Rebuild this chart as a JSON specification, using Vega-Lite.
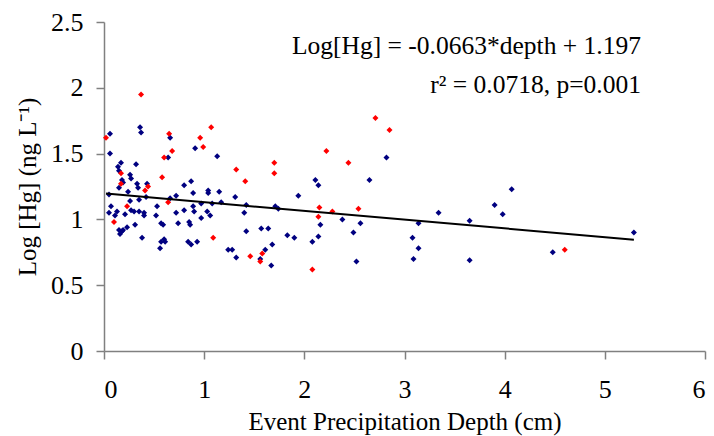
{
  "$schema": "https://vega.github.io/schema/vega-lite/v6.json",
  "autosize": "none",
  "width": 601,
  "height": 329,
  "padding": {"left": 104, "top": 22, "right": 9, "bottom": 85},
  "background": "white",
  "config": {
    "view": {"stroke": null},
    "font": "Liberation Serif",
    "axis": {"grid": false, "domainColor": "#808080", "tickColor": "#808080", "domainWidth": 1.5, "tickWidth": 1.5, "tickSize": 8, "labelFont": "Liberation Serif", "titleFont": "Liberation Serif", "labelFontSize": 26, "titleFontSize": 25, "labelColor": "black", "titleColor": "black", "titleFontWeight": "normal", "labelExpr": "datum.value"}
  },
  "datasets": {
    "points": [
      {"depth":0.06,"loghg":1.65,"group":"blue"},{"depth":0.36,"loghg":1.70,"group":"blue"},{"depth":0.37,"loghg":1.66,"group":"blue"},{"depth":0.66,"loghg":1.62,"group":"blue"},{"depth":0.06,"loghg":1.50,"group":"blue"},{"depth":0.91,"loghg":1.54,"group":"blue"},{"depth":0.64,"loghg":1.47,"group":"blue"},{"depth":1.13,"loghg":1.48,"group":"blue"},{"depth":0.32,"loghg":1.42,"group":"blue"},{"depth":0.17,"loghg":1.43,"group":"blue"},{"depth":0.14,"loghg":1.40,"group":"blue"},{"depth":0.15,"loghg":1.37,"group":"blue"},{"depth":0.26,"loghg":1.34,"group":"blue"},{"depth":0.27,"loghg":1.31,"group":"blue"},{"depth":0.18,"loghg":1.30,"group":"blue"},{"depth":0.19,"loghg":1.28,"group":"blue"},{"depth":0.15,"loghg":1.24,"group":"blue"},{"depth":0.33,"loghg":1.27,"group":"blue"},{"depth":0.34,"loghg":1.24,"group":"blue"},{"depth":0.43,"loghg":1.27,"group":"blue"},{"depth":0.24,"loghg":1.21,"group":"blue"},{"depth":0.87,"loghg":1.29,"group":"blue"},{"depth":0.80,"loghg":1.26,"group":"blue"},{"depth":0.89,"loghg":1.20,"group":"blue"},{"depth":1.04,"loghg":1.22,"group":"blue"},{"depth":1.04,"loghg":1.20,"group":"blue"},{"depth":1.15,"loghg":1.21,"group":"blue"},{"depth":0.05,"loghg":1.19,"group":"blue"},{"depth":0.35,"loghg":1.15,"group":"blue"},{"depth":0.42,"loghg":1.17,"group":"blue"},{"depth":0.26,"loghg":1.14,"group":"blue"},{"depth":0.72,"loghg":1.18,"group":"blue"},{"depth":0.66,"loghg":1.16,"group":"blue"},{"depth":0.07,"loghg":1.10,"group":"blue"},{"depth":0.53,"loghg":1.10,"group":"blue"},{"depth":0.89,"loghg":1.10,"group":"blue"},{"depth":0.97,"loghg":1.12,"group":"blue"},{"depth":1.08,"loghg":1.12,"group":"blue"},{"depth":0.80,"loghg":1.07,"group":"blue"},{"depth":0.27,"loghg":1.07,"group":"blue"},{"depth":0.30,"loghg":1.06,"group":"blue"},{"depth":0.35,"loghg":1.06,"group":"blue"},{"depth":0.40,"loghg":1.05,"group":"blue"},{"depth":0.40,"loghg":1.03,"group":"blue"},{"depth":0.13,"loghg":1.06,"group":"blue"},{"depth":0.05,"loghg":1.05,"group":"blue"},{"depth":0.11,"loghg":1.03,"group":"blue"},{"depth":0.21,"loghg":1.04,"group":"blue"},{"depth":0.52,"loghg":1.03,"group":"blue"},{"depth":0.72,"loghg":1.05,"group":"blue"},{"depth":0.90,"loghg":1.06,"group":"blue"},{"depth":1.03,"loghg":1.06,"group":"blue"},{"depth":1.06,"loghg":1.03,"group":"blue"},{"depth":0.97,"loghg":1.01,"group":"blue"},{"depth":1.17,"loghg":1.13,"group":"blue"},{"depth":0.74,"loghg":0.97,"group":"blue"},{"depth":0.85,"loghg":0.98,"group":"blue"},{"depth":0.86,"loghg":0.96,"group":"blue"},{"depth":0.31,"loghg":0.96,"group":"blue"},{"depth":0.23,"loghg":0.94,"group":"blue"},{"depth":0.15,"loghg":0.92,"group":"blue"},{"depth":0.18,"loghg":0.91,"group":"blue"},{"depth":0.16,"loghg":0.89,"group":"blue"},{"depth":0.19,"loghg":0.92,"group":"blue"},{"depth":0.57,"loghg":0.97,"group":"blue"},{"depth":0.59,"loghg":0.96,"group":"blue"},{"depth":0.38,"loghg":0.86,"group":"blue"},{"depth":0.60,"loghg":0.85,"group":"blue"},{"depth":0.57,"loghg":0.83,"group":"blue"},{"depth":0.61,"loghg":0.83,"group":"blue"},{"depth":0.84,"loghg":0.83,"group":"blue"},{"depth":0.87,"loghg":0.81,"group":"blue"},{"depth":0.93,"loghg":0.83,"group":"blue"},{"depth":0.56,"loghg":0.78,"group":"blue"},{"depth":2.11,"loghg":1.30,"group":"blue"},{"depth":2.14,"loghg":1.26,"group":"blue"},{"depth":1.31,"loghg":1.17,"group":"blue"},{"depth":1.94,"loghg":1.18,"group":"blue"},{"depth":1.42,"loghg":1.11,"group":"blue"},{"depth":1.71,"loghg":1.10,"group":"blue"},{"depth":1.74,"loghg":1.08,"group":"blue"},{"depth":1.40,"loghg":1.05,"group":"blue"},{"depth":2.16,"loghg":0.96,"group":"blue"},{"depth":2.38,"loghg":1.00,"group":"blue"},{"depth":1.42,"loghg":0.91,"group":"blue"},{"depth":1.57,"loghg":0.93,"group":"blue"},{"depth":1.64,"loghg":0.93,"group":"blue"},{"depth":1.83,"loghg":0.88,"group":"blue"},{"depth":1.90,"loghg":0.86,"group":"blue"},{"depth":2.14,"loghg":0.87,"group":"blue"},{"depth":2.08,"loghg":0.83,"group":"blue"},{"depth":1.68,"loghg":0.81,"group":"blue"},{"depth":1.61,"loghg":0.77,"group":"blue"},{"depth":1.24,"loghg":0.77,"group":"blue"},{"depth":1.28,"loghg":0.77,"group":"blue"},{"depth":1.32,"loghg":0.71,"group":"blue"},{"depth":1.56,"loghg":0.70,"group":"blue"},{"depth":1.67,"loghg":0.65,"group":"blue"},{"depth":2.82,"loghg":1.47,"group":"blue"},{"depth":2.65,"loghg":1.30,"group":"blue"},{"depth":2.56,"loghg":0.97,"group":"blue"},{"depth":2.49,"loghg":0.90,"group":"blue"},{"depth":2.52,"loghg":0.68,"group":"blue"},{"depth":3.14,"loghg":0.97,"group":"blue"},{"depth":3.34,"loghg":1.05,"group":"blue"},{"depth":3.08,"loghg":0.86,"group":"blue"},{"depth":3.14,"loghg":0.78,"group":"blue"},{"depth":3.09,"loghg":0.70,"group":"blue"},{"depth":3.65,"loghg":0.99,"group":"blue"},{"depth":3.65,"loghg":0.69,"group":"blue"},{"depth":3.90,"loghg":1.11,"group":"blue"},{"depth":3.98,"loghg":1.04,"group":"blue"},{"depth":4.07,"loghg":1.23,"group":"blue"},{"depth":4.48,"loghg":0.75,"group":"blue"},{"depth":5.29,"loghg":0.90,"group":"blue"},
      {"depth":0.37,"loghg":1.95,"group":"red"},{"depth":0.02,"loghg":1.62,"group":"red"},{"depth":0.65,"loghg":1.65,"group":"red"},{"depth":1.07,"loghg":1.70,"group":"red"},{"depth":0.96,"loghg":1.62,"group":"red"},{"depth":0.99,"loghg":1.55,"group":"red"},{"depth":0.68,"loghg":1.52,"group":"red"},{"depth":0.60,"loghg":1.47,"group":"red"},{"depth":0.17,"loghg":1.35,"group":"red"},{"depth":0.58,"loghg":1.32,"group":"red"},{"depth":0.17,"loghg":1.27,"group":"red"},{"depth":0.44,"loghg":1.25,"group":"red"},{"depth":0.41,"loghg":1.22,"group":"red"},{"depth":0.64,"loghg":1.13,"group":"red"},{"depth":0.23,"loghg":1.10,"group":"red"},{"depth":0.10,"loghg":0.98,"group":"red"},{"depth":1.09,"loghg":0.86,"group":"red"},{"depth":2.22,"loghg":1.52,"group":"red"},{"depth":1.70,"loghg":1.43,"group":"red"},{"depth":1.70,"loghg":1.35,"group":"red"},{"depth":1.32,"loghg":1.38,"group":"red"},{"depth":1.41,"loghg":1.29,"group":"red"},{"depth":2.15,"loghg":1.09,"group":"red"},{"depth":2.28,"loghg":1.06,"group":"red"},{"depth":2.14,"loghg":1.02,"group":"red"},{"depth":1.46,"loghg":0.72,"group":"red"},{"depth":1.58,"loghg":0.74,"group":"red"},{"depth":1.56,"loghg":0.68,"group":"red"},{"depth":2.08,"loghg":0.62,"group":"red"},{"depth":2.71,"loghg":1.77,"group":"red"},{"depth":2.85,"loghg":1.68,"group":"red"},{"depth":2.44,"loghg":1.43,"group":"red"},{"depth":2.54,"loghg":1.08,"group":"red"},{"depth":4.60,"loghg":0.77,"group":"red"}
    ],
    "trend": [
      {"depth": 0.02, "loghg": 1.196},
      {"depth": 5.29, "loghg": 0.846}
    ]
  },
  "layer": [
    {
      "data": {"name": "points"},
      "mark": {"type": "point", "shape": "diamond", "filled": true, "size": 36, "opacity": 1},
      "encoding": {
        "x": {"field": "depth", "type": "quantitative", "scale": {"domain": [0, 6], "nice": false, "zero": true}, "axis": {"title": "Event Precipitation Depth (cm)", "values": [0,1,2,3,4,5,6], "labelPadding": 17, "titlePadding": 7}},
        "y": {"field": "loghg", "type": "quantitative", "scale": {"domain": [0, 2.5], "nice": false}, "axis": {"title": "Log [Hg] (ng L⁻¹)", "values": [0,0.5,1,1.5,2,2.5], "labelPadding": 13, "titlePadding": 10}},
        "color": {"field": "group", "type": "nominal", "scale": {"domain": ["blue","red"], "range": ["#000080","#FF0000"]}, "legend": null},
        "order": {"field": "group", "sort": "ascending"}
      }
    },
    {
      "data": {"name": "trend"},
      "mark": {"type": "line", "color": "black", "strokeWidth": 2},
      "encoding": {
        "x": {"field": "depth", "type": "quantitative"},
        "y": {"field": "loghg", "type": "quantitative"}
      }
    },
    {
      "data": {"values": [{}]},
      "mark": {"type": "text", "text": "Log[Hg] = -0.0663*depth + 1.197", "align": "right", "baseline": "middle", "fontSize": 25.5, "font": "Liberation Serif", "color": "black"},
      "encoding": {"x": {"datum": 5.36}, "y": {"datum": 2.32}}
    },
    {
      "data": {"values": [{}]},
      "mark": {"type": "text", "text": "r² = 0.0718, p=0.001", "align": "right", "baseline": "middle", "fontSize": 25.5, "font": "Liberation Serif", "color": "black"},
      "encoding": {"x": {"datum": 5.36}, "y": {"datum": 2.02}}
    }
  ]
}
